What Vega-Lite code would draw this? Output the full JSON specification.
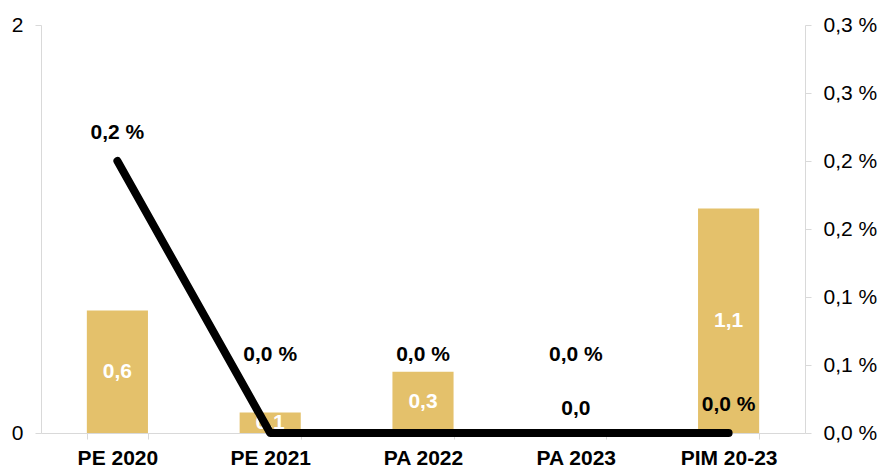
{
  "$schema": "https://vega.github.io/schema/vega-lite/v6.json",
  "width": 764,
  "height": 408,
  "autosize": {"type": "none"},
  "padding": {"left": 41, "top": 25, "right": 75, "bottom": 38},
  "background": "white",
  "config": {
    "view": {"stroke": null},
    "font": "Liberation Sans",
    "axis": {
      "domainColor": "#d9d9d9",
      "tickColor": "#d9d9d9",
      "labelFont": "Liberation Sans",
      "labelFontSize": 21,
      "labelColor": "#000000",
      "grid": false,
      "title": null,
      "tickSize": 6
    }
  },
  "data": {
    "values": [
      {"cat": "PE 2020", "bar": 0.6, "pct": 0.2},
      {"cat": "PE 2021", "bar": 0.1, "pct": 0},
      {"cat": "PA 2022", "bar": 0.3, "pct": 0},
      {"cat": "PA 2023", "bar": 0, "pct": 0},
      {"cat": "PIM 20-23", "bar": 1.1, "pct": 0}
    ]
  },
  "transform": [
    {"calculate": "replace(format(datum.bar, '.1f'), '.', ',')", "as": "barLabel"},
    {"calculate": "replace(format(datum.pct, '.1f'), '.', ',') + ' %'", "as": "pctLabel"},
    {"calculate": "datum.bar / 2", "as": "barMid"}
  ],
  "encoding": {
    "x": {
      "field": "cat",
      "type": "nominal",
      "sort": null,
      "scale": {"paddingInner": 0.6, "paddingOuter": 0.3},
      "axis": {"labelAngle": 0, "labelFontWeight": "bold", "tickBand": "extent", "labelPadding": 8}
    }
  },
  "layer": [
    {
      "layer": [
        {
          "mark": {"type": "bar", "color": "#E4C16B"},
          "encoding": {
            "y": {
              "field": "bar",
              "type": "quantitative",
              "scale": {"domain": [0, 2]},
              "axis": {"values": [0, 1, 2], "format": "d", "labelPadding": 12}
            }
          }
        },
        {
          "transform": [{"filter": "datum.bar > 0"}],
          "mark": {"type": "text", "color": "white", "fontWeight": "bold", "fontSize": 21, "baseline": "middle"},
          "encoding": {
            "y": {"field": "barMid", "type": "quantitative"},
            "text": {"field": "barLabel"}
          }
        },
        {
          "transform": [{"filter": "datum.bar == 0"}],
          "mark": {"type": "text", "color": "black", "fontWeight": "bold", "fontSize": 21, "baseline": "middle", "dy": -24},
          "encoding": {
            "y": {"field": "barMid", "type": "quantitative"},
            "text": {"field": "barLabel"}
          }
        }
      ]
    },
    {
      "layer": [
        {
          "mark": {"type": "line", "color": "black", "strokeWidth": 8, "strokeCap": "round", "strokeJoin": "round"},
          "encoding": {
            "y": {
              "field": "pct",
              "type": "quantitative",
              "scale": {"domain": [0, 0.3]},
              "axis": {
                "orient": "right",
                "values": [0, 0.05, 0.1, 0.15, 0.2, 0.25, 0.3],
                "labelExpr": "replace(format(datum.value + 0.0001, '.1f'), '.', ',') + ' %'",
                "labelPadding": 12
              }
            }
          }
        },
        {
          "transform": [{"filter": "datum.cat == 'PE 2020' || datum.cat == 'PIM 20-23'"}],
          "mark": {"type": "text", "color": "black", "fontWeight": "bold", "fontSize": 21, "baseline": "middle", "dy": -28},
          "encoding": {
            "y": {"field": "pct", "type": "quantitative"},
            "text": {"field": "pctLabel"}
          }
        },
        {
          "transform": [{"filter": "datum.cat != 'PE 2020' && datum.cat != 'PIM 20-23'"}],
          "mark": {"type": "text", "color": "black", "fontWeight": "bold", "fontSize": 21, "baseline": "middle", "dy": -78},
          "encoding": {
            "y": {"field": "pct", "type": "quantitative"},
            "text": {"field": "pctLabel"}
          }
        }
      ]
    }
  ],
  "resolve": {"scale": {"y": "independent"}}
}
